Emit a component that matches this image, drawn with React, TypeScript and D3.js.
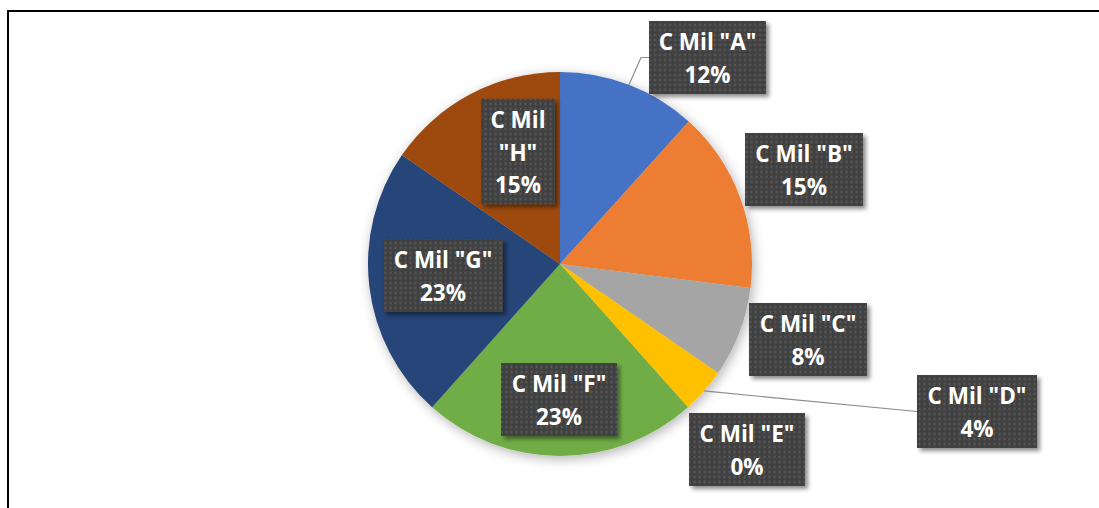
import React from "react";
import * as d3 from "d3";

const categories = ['C Mil "A"', 'C Mil "B"', 'C Mil "C"', 'C Mil "D"', 'C Mil "E"', 'C Mil "F"', 'C Mil "G"', 'C Mil "H"'];
const values = [11.7, 15.3, 7.6, 3.8, 0, 23.2, 23.0, 15.4];
const colors = ["#4472C4", "#ED7D31", "#A5A5A5", "#FFC000", "#5B9BD5", "#70AD47", "#264478", "#9E480E"];

// layout: label box centre offsets from pie centre, box sizes, line breaks
const labelLayout = [
  { dx: 147.5, dy: -206.5, w: 117, lines: 2, leader: true },
  { dx: 244, dy: -94.5, w: 118, lines: 2, leader: false },
  { dx: 248, dy: 75.5, w: 118, lines: 2, leader: false },
  { dx: 417, dy: 147.5, w: 120, lines: 2, leader: true },
  { dx: 187, dy: 185.5, w: 116, lines: 2, leader: false },
  { dx: -1, dy: 135.5, w: 116, lines: 2, leader: false },
  { dx: -117, dy: 11.5, w: 120, lines: 2, leader: false },
  { dx: -42, dy: -112.5, w: 74, lines: 3, leader: false },
];

const W = 1099;
const H = 508;
const cx = 560;
const cy = 264;
const R = 192;
const LINE = 32.5;
const FONT = "'Open Sans', 'DejaVu Sans', sans-serif";

export default function App() {
  const total = d3.sum(values);
  const pie = d3.pie<number>().sort(null).value((d) => d);
  const arcs = pie(values);
  const arc = d3.arc<d3.PieArcDatum<number>>().innerRadius(0).outerRadius(R);

  return (
    <svg
      width={W}
      height={H}
      style={{ position: "absolute", left: 0, top: 0, background: "#fff" }}
    >
      <defs>
        <pattern id="dots" width="5" height="5" patternUnits="userSpaceOnUse">
          <rect width="5" height="5" fill="#404040" />
          <rect x="1.5" y="1.5" width="2" height="2" fill="#5e5e5e" />
        </pattern>
        <filter id="boxShadow" x="-20%" y="-20%" width="150%" height="150%">
          <feDropShadow dx="3" dy="3" stdDeviation="2" floodColor="#000" floodOpacity="0.45" />
        </filter>
        <filter id="pieShadow" x="-20%" y="-20%" width="140%" height="140%">
          <feDropShadow dx="2" dy="3" stdDeviation="6" floodColor="#000" floodOpacity="0.3" />
        </filter>
      </defs>

      <path d={`M8,${H} V11 H${W}`} fill="none" stroke="#000" strokeWidth={2} />

      <g transform={`translate(${cx},${cy})`}>
        <g filter="url(#pieShadow)">
          {arcs.map((a, i) => (
            <path key={i} d={arc(a) || ""} fill={colors[i]} />
          ))}
        </g>

        {arcs.map((a, i) => {
          const L = labelLayout[i];
          if (!L.leader) return null;
          const mid = (a.startAngle + a.endAngle) / 2;
          const px = R * Math.sin(mid);
          const py = -R * Math.cos(mid);
          const bx = L.dx - L.w / 2;
          const by = L.dy;
          const pts = i === 0 ? `${px},${py} ${bx - 8},${by} ${bx},${by}` : `${px},${py} ${bx},${by}`;
          return (
            <polyline key={"l" + i} points={pts} fill="none" stroke="#8c8c8c" strokeWidth={1.2} />
          );
        })}

        {arcs.map((a, i) => {
          const L = labelLayout[i];
          const pct = Math.round((values[i] / total) * 100) + "%";
          const name = categories[i];
          const lines = L.lines === 3 ? [name.split(" ").slice(0, 2).join(" "), name.split(" ")[2], pct] : [name, pct];
          const h = lines.length * LINE + 8;
          return (
            <g key={"b" + i} transform={`translate(${L.dx},${L.dy})`}>
              <rect
                x={-L.w / 2}
                y={-h / 2}
                width={L.w}
                height={h}
                fill="url(#dots)"
                filter="url(#boxShadow)"
              />
              {lines.map((t, j) => (
                <text
                  key={j}
                  x={0}
                  y={(j - (lines.length - 1) / 2) * LINE + 1}
                  dy="0.36em"
                  textAnchor="middle"
                  fill="#fff"
                  fontFamily={FONT}
                  fontWeight={700}
                  fontSize={22.5}
                >
                  {t}
                </text>
              ))}
            </g>
          );
        })}
      </g>
    </svg>
  );
}
